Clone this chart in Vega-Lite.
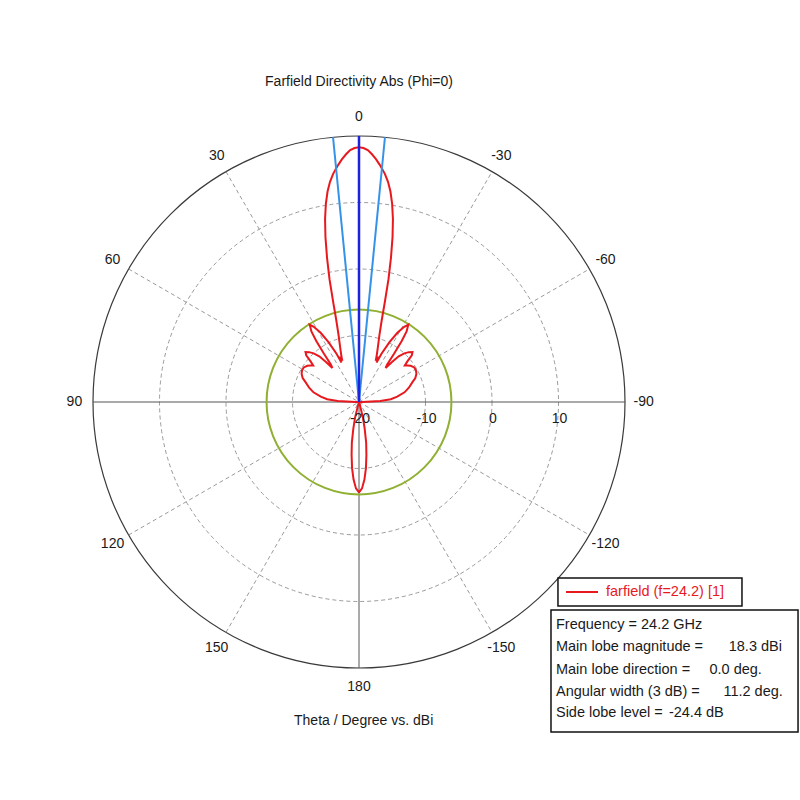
{
  "$schema": "https://vega.github.io/schema/vega-lite/v6.json",
  "width": 665,
  "height": 665,
  "autosize": {"type": "none"},
  "padding": {"left": 26.5, "top": 69.5, "right": 108.5, "bottom": 65.5},
  "background": "white",
  "config": {"view": {"stroke": null}, "text": {"font": "Liberation Sans", "fontSize": 14, "fill": "#1a1a1a"}},
  "layer": [
    {
      "data": {"values": [{"db": -10, "k": "grid"}, {"db": 0, "k": "grid"}, {"db": 10, "k": "grid"}]},
      "transform": [{"calculate": "datum.db + 20", "as": "r"}, {"calculate": "0", "as": "c"}],
      "mark": {"type": "point", "shape": "circle", "filled": false, "opacity": 1, "stroke": "#9a9a9a", "strokeWidth": 1, "strokeDash": [4, 3]},
      "encoding": {
        "x": {"field": "c", "type": "quantitative", "scale": {"domain": [-50, 50], "nice": false, "zero": false}, "axis": null},
        "y": {"field": "c", "type": "quantitative", "scale": {"domain": [-50, 50], "nice": false, "zero": false}, "axis": null},
        "size": {"field": "r", "type": "quantitative", "scale": {"type": "pow", "exponent": 2, "domain": [0, 40], "range": [0, 283024], "zero": true, "nice": false}, "legend": null}
      }
    },
    {
      "data": {"values": [{"db": 20, "k": "outer"}]},
      "transform": [{"calculate": "datum.db + 20", "as": "r"}, {"calculate": "0", "as": "c"}],
      "mark": {"type": "point", "shape": "circle", "filled": false, "opacity": 1, "stroke": "#3a3a3a", "strokeWidth": 1.2},
      "encoding": {
        "x": {"field": "c", "type": "quantitative", "scale": {"domain": [-50, 50], "nice": false, "zero": false}, "axis": null},
        "y": {"field": "c", "type": "quantitative", "scale": {"domain": [-50, 50], "nice": false, "zero": false}, "axis": null},
        "size": {"field": "r", "type": "quantitative", "scale": {"type": "pow", "exponent": 2, "domain": [0, 40], "range": [0, 283024], "zero": true, "nice": false}, "legend": null}
      }
    },
    {
      "data": {"values": [{"a": 30}, {"a": 60}, {"a": 120}, {"a": 150}]},
      "transform": [
        {"calculate": "-40*sin(datum.a*PI/180)", "as": "x1"},
        {"calculate": "40*cos(datum.a*PI/180)", "as": "y1"},
        {"calculate": "-datum.x1", "as": "x2"},
        {"calculate": "-datum.y1", "as": "y2"}
      ],
      "mark": {"type": "rule", "stroke": "#9a9a9a", "strokeWidth": 1, "strokeDash": [4, 3]},
      "encoding": {
        "x": {"field": "x1", "type": "quantitative", "scale": {"domain": [-50, 50], "nice": false, "zero": false}, "axis": null},
        "y": {"field": "y1", "type": "quantitative", "scale": {"domain": [-50, 50], "nice": false, "zero": false}, "axis": null},
        "x2": {"field": "x2"},
        "y2": {"field": "y2"}
      }
    },
    {
      "data": {"values": [{"a": 0}, {"a": 90}]},
      "transform": [
        {"calculate": "-40*sin(datum.a*PI/180)", "as": "x1"},
        {"calculate": "40*cos(datum.a*PI/180)", "as": "y1"},
        {"calculate": "-datum.x1", "as": "x2"},
        {"calculate": "-datum.y1", "as": "y2"}
      ],
      "mark": {"type": "rule", "stroke": "#555555", "strokeWidth": 1},
      "encoding": {
        "x": {"field": "x1", "type": "quantitative", "scale": {"domain": [-50, 50], "nice": false, "zero": false}, "axis": null},
        "y": {"field": "y1", "type": "quantitative", "scale": {"domain": [-50, 50], "nice": false, "zero": false}, "axis": null},
        "x2": {"field": "x2"},
        "y2": {"field": "y2"}
      }
    },
    {
      "data": {"values": [{"db": -6.1, "k": "sll"}]},
      "transform": [{"calculate": "datum.db + 20", "as": "r"}, {"calculate": "0", "as": "c"}],
      "mark": {"type": "point", "shape": "circle", "filled": false, "opacity": 1, "stroke": "#8fb032", "strokeWidth": 2},
      "encoding": {
        "x": {"field": "c", "type": "quantitative", "scale": {"domain": [-50, 50], "nice": false, "zero": false}, "axis": null},
        "y": {"field": "c", "type": "quantitative", "scale": {"domain": [-50, 50], "nice": false, "zero": false}, "axis": null},
        "size": {"field": "r", "type": "quantitative", "scale": {"type": "pow", "exponent": 2, "domain": [0, 40], "range": [0, 283024], "zero": true, "nice": false}, "legend": null}
      }
    },
    {
      "data": {"values": [
        {"t": -180, "d": -6.4}, {"t": -178, "d": -7.0}, {"t": -176, "d": -8.3}, {"t": -174, "d": -10.0}, {"t": -172, "d": -12.0},
        {"t": -170, "d": -13.8}, {"t": -168, "d": -15.9}, {"t": -166, "d": -17.5}, {"t": -163, "d": -19.5}, {"t": -160, "d": -20.5},
        {"t": -90, "d": -20.5}, {"t": -89, "d": -19.5}, {"t": -87, "d": -16.8}, {"t": -85, "d": -15.2}, {"t": -82, "d": -14.2},
        {"t": -78, "d": -13.0}, {"t": -74, "d": -12.2}, {"t": -70, "d": -11.5}, {"t": -67, "d": -10.8}, {"t": -64, "d": -10.4},
        {"t": -61, "d": -10.2}, {"t": -58, "d": -10.2}, {"t": -55, "d": -10.5}, {"t": -53, "d": -10.9}, {"t": -51.5, "d": -11.2},
        {"t": -50, "d": -10.5}, {"t": -48.5, "d": -9.4}, {"t": -47, "d": -9.0}, {"t": -45, "d": -9.4}, {"t": -43, "d": -10.0},
        {"t": -41, "d": -10.9}, {"t": -39.5, "d": -12.2}, {"t": -38, "d": -13.5}, {"t": -37, "d": -13.0}, {"t": -36, "d": -11.0},
        {"t": -35, "d": -8.8}, {"t": -34, "d": -7.2}, {"t": -32.5, "d": -6.2}, {"t": -31, "d": -6.8}, {"t": -29, "d": -8.1},
        {"t": -27, "d": -9.9}, {"t": -25, "d": -12.0}, {"t": -24, "d": -13.5}, {"t": -23, "d": -12.6}, {"t": -22, "d": -13.3},
        {"t": -21, "d": -12.6}, {"t": -19, "d": -11.3}, {"t": -17, "d": -9.5}, {"t": -15.5, "d": -7.2}, {"t": -14.5, "d": -4.5},
        {"t": -13.5, "d": -1.0}, {"t": -12.5, "d": 2.2}, {"t": -11.5, "d": 5.3}, {"t": -10.5, "d": 8.0}, {"t": -9.5, "d": 10.2},
        {"t": -8.5, "d": 12.0}, {"t": -7.5, "d": 13.4}, {"t": -6.5, "d": 14.5}, {"t": -5.6, "d": 15.3}, {"t": -5, "d": 15.8},
        {"t": -4, "d": 16.6}, {"t": -3, "d": 17.3}, {"t": -2, "d": 17.9}, {"t": -1, "d": 18.2},
        {"t": 0, "d": 18.3},
        {"t": 1, "d": 18.2}, {"t": 2, "d": 17.9}, {"t": 3, "d": 17.3}, {"t": 4, "d": 16.6}, {"t": 5, "d": 15.8},
        {"t": 5.6, "d": 15.3}, {"t": 6.5, "d": 14.5}, {"t": 7.5, "d": 13.4}, {"t": 8.5, "d": 12.0}, {"t": 9.5, "d": 10.2},
        {"t": 10.5, "d": 8.0}, {"t": 11.5, "d": 5.3}, {"t": 12.5, "d": 2.2}, {"t": 13.5, "d": -1.0}, {"t": 14.5, "d": -4.5},
        {"t": 15.5, "d": -7.2}, {"t": 17, "d": -9.5}, {"t": 19, "d": -11.3}, {"t": 21, "d": -12.6}, {"t": 22, "d": -13.3},
        {"t": 23, "d": -12.6}, {"t": 24, "d": -13.5}, {"t": 25, "d": -12.0}, {"t": 27, "d": -9.9}, {"t": 29, "d": -8.1},
        {"t": 31, "d": -6.8}, {"t": 32.5, "d": -6.2}, {"t": 34, "d": -7.2}, {"t": 35, "d": -8.8}, {"t": 36, "d": -11.0},
        {"t": 37, "d": -13.0}, {"t": 38, "d": -13.5}, {"t": 39.5, "d": -12.2}, {"t": 41, "d": -10.9}, {"t": 43, "d": -10.0},
        {"t": 45, "d": -9.4}, {"t": 47, "d": -9.0}, {"t": 48.5, "d": -9.4}, {"t": 50, "d": -10.5}, {"t": 51.5, "d": -11.2},
        {"t": 53, "d": -10.9}, {"t": 55, "d": -10.5}, {"t": 58, "d": -10.2}, {"t": 61, "d": -10.2}, {"t": 64, "d": -10.4},
        {"t": 67, "d": -10.8}, {"t": 70, "d": -11.5}, {"t": 74, "d": -12.2}, {"t": 78, "d": -13.0}, {"t": 82, "d": -14.2},
        {"t": 85, "d": -15.2}, {"t": 87, "d": -16.8}, {"t": 89, "d": -19.5}, {"t": 90, "d": -20.5},
        {"t": 160, "d": -20.5}, {"t": 163, "d": -19.5}, {"t": 166, "d": -17.5}, {"t": 168, "d": -15.9}, {"t": 170, "d": -13.8},
        {"t": 172, "d": -12.0}, {"t": 174, "d": -10.0}, {"t": 176, "d": -8.3}, {"t": 178, "d": -7.0}, {"t": 180, "d": -6.4}
      ]},
      "transform": [
        {"calculate": "max(datum.d + 20, 0)", "as": "r"},
        {"calculate": "-datum.r*sin(datum.t*PI/180)", "as": "px"},
        {"calculate": "datum.r*cos(datum.t*PI/180)", "as": "py"}
      ],
      "mark": {"type": "line", "stroke": "#e8191e", "strokeWidth": 2, "interpolate": "linear"},
      "encoding": {
        "x": {"field": "px", "type": "quantitative", "scale": {"domain": [-50, 50], "nice": false, "zero": false}, "axis": null},
        "y": {"field": "py", "type": "quantitative", "scale": {"domain": [-50, 50], "nice": false, "zero": false}, "axis": null},
        "order": {"field": "t", "type": "quantitative"}
      }
    },
    {
      "data": {"values": [{"a": 5.6}, {"a": -5.6}]},
      "transform": [
        {"calculate": "0", "as": "x1"},
        {"calculate": "0", "as": "y1"},
        {"calculate": "-40*sin(datum.a*PI/180)", "as": "x2"},
        {"calculate": "40*cos(datum.a*PI/180)", "as": "y2"}
      ],
      "mark": {"type": "rule", "stroke": "#3592e8", "strokeWidth": 2},
      "encoding": {
        "x": {"field": "x1", "type": "quantitative", "scale": {"domain": [-50, 50], "nice": false, "zero": false}, "axis": null},
        "y": {"field": "y1", "type": "quantitative", "scale": {"domain": [-50, 50], "nice": false, "zero": false}, "axis": null},
        "x2": {"field": "x2"},
        "y2": {"field": "y2"}
      }
    },
    {
      "data": {"values": [{"a": 0}]},
      "transform": [
        {"calculate": "0", "as": "x1"},
        {"calculate": "0", "as": "y1"},
        {"calculate": "-40*sin(datum.a*PI/180)", "as": "x2"},
        {"calculate": "40*cos(datum.a*PI/180)", "as": "y2"}
      ],
      "mark": {"type": "rule", "stroke": "#1c22e0", "strokeWidth": 2.5},
      "encoding": {
        "x": {"field": "x1", "type": "quantitative", "scale": {"domain": [-50, 50], "nice": false, "zero": false}, "axis": null},
        "y": {"field": "y1", "type": "quantitative", "scale": {"domain": [-50, 50], "nice": false, "zero": false}, "axis": null},
        "x2": {"field": "x2"},
        "y2": {"field": "y2"}
      }
    },
    {
      "data": {"values": [
        {"a": 0, "l": "0"}, {"a": 30, "l": "30"}, {"a": 60, "l": "60"}, {"a": 90, "l": "90"},
        {"a": 120, "l": "120"}, {"a": 150, "l": "150"}, {"a": 180, "l": "180"}, {"a": -150, "l": "-150"},
        {"a": -120, "l": "-120"}, {"a": -90, "l": "-90"}, {"a": -60, "l": "-60"}, {"a": -30, "l": "-30"}
      ]},
      "transform": [
        {"calculate": "-42.8*sin(datum.a*PI/180)", "as": "lx"},
        {"calculate": "42.8*cos(datum.a*PI/180)", "as": "ly"}
      ],
      "mark": {"type": "text", "fontSize": 14},
      "encoding": {
        "x": {"field": "lx", "type": "quantitative", "scale": {"domain": [-50, 50], "nice": false, "zero": false}, "axis": null},
        "y": {"field": "ly", "type": "quantitative", "scale": {"domain": [-50, 50], "nice": false, "zero": false}, "axis": null},
        "text": {"field": "l", "type": "nominal"}
      }
    },
    {
      "data": {"values": [{"v": -20, "l": "-20"}, {"v": -10, "l": "-10"}, {"v": 0, "l": "0"}, {"v": 10, "l": "10"}]},
      "transform": [{"calculate": "datum.v + 20", "as": "rx"}, {"calculate": "0", "as": "ry"}],
      "mark": {"type": "text", "fontSize": 14, "dy": 17, "dx": 1},
      "encoding": {
        "x": {"field": "rx", "type": "quantitative", "scale": {"domain": [-50, 50], "nice": false, "zero": false}, "axis": null},
        "y": {"field": "ry", "type": "quantitative", "scale": {"domain": [-50, 50], "nice": false, "zero": false}, "axis": null},
        "text": {"field": "l", "type": "nominal"}
      }
    },
    {
      "data": {"values": [{"t": "Farfield Directivity Abs (Phi=0)"}]},
      "mark": {"type": "text", "fontSize": 14},
      "encoding": {
        "x": {"datum": 0, "type": "quantitative", "axis": null},
        "y": {"datum": 48.1, "type": "quantitative", "axis": null},
        "text": {"field": "t", "type": "nominal"}
      }
    },
    {
      "data": {"values": [{"t": "Theta / Degree vs. dBi"}]},
      "mark": {"type": "text", "fontSize": 14},
      "encoding": {
        "x": {"datum": 0.7, "type": "quantitative", "axis": null},
        "y": {"datum": -48.0, "type": "quantitative", "axis": null},
        "text": {"field": "t", "type": "nominal"}
      }
    },
    {
      "data": {"values": [{"k": "legend"}]},
      "mark": {"type": "rect", "fill": "white", "stroke": "#111111", "strokeWidth": 1.5},
      "encoding": {
        "x": {"datum": 29.92, "type": "quantitative", "axis": null},
        "x2": {"datum": 57.59},
        "y": {"datum": -26.47, "type": "quantitative", "axis": null},
        "y2": {"datum": -30.68}
      }
    },
    {
      "data": {"values": [{"k": "legend"}]},
      "mark": {"type": "rule", "stroke": "#e8191e", "strokeWidth": 2},
      "encoding": {
        "x": {"datum": 31.13, "type": "quantitative", "axis": null},
        "x2": {"datum": 35.94},
        "y": {"datum": -28.57, "type": "quantitative", "axis": null}
      }
    },
    {
      "data": {"values": [{"t": "farfield (f=24.2) [1]"}]},
      "mark": {"type": "text", "fontSize": 14.5, "align": "left", "fill": "#e8191e"},
      "encoding": {
        "x": {"datum": 37.14, "type": "quantitative", "axis": null},
        "y": {"datum": -28.57, "type": "quantitative", "axis": null},
        "text": {"field": "t", "type": "nominal"}
      }
    },
    {
      "data": {"values": [{"k": "info"}]},
      "mark": {"type": "rect", "fill": "white", "stroke": "#111111", "strokeWidth": 1.5},
      "encoding": {
        "x": {"datum": 28.87, "type": "quantitative", "axis": null},
        "x2": {"datum": 66.02},
        "y": {"datum": -31.28, "type": "quantitative", "axis": null},
        "y2": {"datum": -49.62}
      }
    },
    {
      "data": {"values": [{"t": "Frequency = 24.2 GHz"}]},
      "mark": {"type": "text", "fontSize": 14.5, "align": "left"},
      "encoding": {
        "x": {"datum": 29.62, "type": "quantitative", "axis": null},
        "y": {"datum": -33.53, "type": "quantitative", "axis": null},
        "text": {"field": "t", "type": "nominal"}
      }
    },
    {
      "data": {"values": [{"t": "Main lobe magnitude ="}]},
      "mark": {"type": "text", "fontSize": 14.5, "align": "left"},
      "encoding": {
        "x": {"datum": 29.62, "type": "quantitative", "axis": null},
        "y": {"datum": -36.8, "type": "quantitative", "axis": null},
        "text": {"field": "t", "type": "nominal"}
      }
    },
    {
      "data": {"values": [{"t": "18.3 dBi"}]},
      "mark": {"type": "text", "fontSize": 14.5, "align": "left"},
      "encoding": {
        "x": {"datum": 55.6, "type": "quantitative", "axis": null},
        "y": {"datum": -36.8, "type": "quantitative", "axis": null},
        "text": {"field": "t", "type": "nominal"}
      }
    },
    {
      "data": {"values": [{"t": "Main lobe direction ="}]},
      "mark": {"type": "text", "fontSize": 14.5, "align": "left"},
      "encoding": {
        "x": {"datum": 29.62, "type": "quantitative", "axis": null},
        "y": {"datum": -40.3, "type": "quantitative", "axis": null},
        "text": {"field": "t", "type": "nominal"}
      }
    },
    {
      "data": {"values": [{"t": "0.0 deg."}]},
      "mark": {"type": "text", "fontSize": 14.5, "align": "left"},
      "encoding": {
        "x": {"datum": 52.7, "type": "quantitative", "axis": null},
        "y": {"datum": -40.3, "type": "quantitative", "axis": null},
        "text": {"field": "t", "type": "nominal"}
      }
    },
    {
      "data": {"values": [{"t": "Angular width (3 dB) ="}]},
      "mark": {"type": "text", "fontSize": 14.5, "align": "left"},
      "encoding": {
        "x": {"datum": 29.62, "type": "quantitative", "axis": null},
        "y": {"datum": -43.56, "type": "quantitative", "axis": null},
        "text": {"field": "t", "type": "nominal"}
      }
    },
    {
      "data": {"values": [{"t": "11.2 deg."}]},
      "mark": {"type": "text", "fontSize": 14.5, "align": "left"},
      "encoding": {
        "x": {"datum": 54.8, "type": "quantitative", "axis": null},
        "y": {"datum": -43.56, "type": "quantitative", "axis": null},
        "text": {"field": "t", "type": "nominal"}
      }
    },
    {
      "data": {"values": [{"t": "Side lobe level ="}]},
      "mark": {"type": "text", "fontSize": 14.5, "align": "left"},
      "encoding": {
        "x": {"datum": 29.62, "type": "quantitative", "axis": null},
        "y": {"datum": -46.82, "type": "quantitative", "axis": null},
        "text": {"field": "t", "type": "nominal"}
      }
    },
    {
      "data": {"values": [{"t": "-24.4 dB"}]},
      "mark": {"type": "text", "fontSize": 14.5, "align": "left"},
      "encoding": {
        "x": {"datum": 46.6, "type": "quantitative", "axis": null},
        "y": {"datum": -46.82, "type": "quantitative", "axis": null},
        "text": {"field": "t", "type": "nominal"}
      }
    }
  ]
}
